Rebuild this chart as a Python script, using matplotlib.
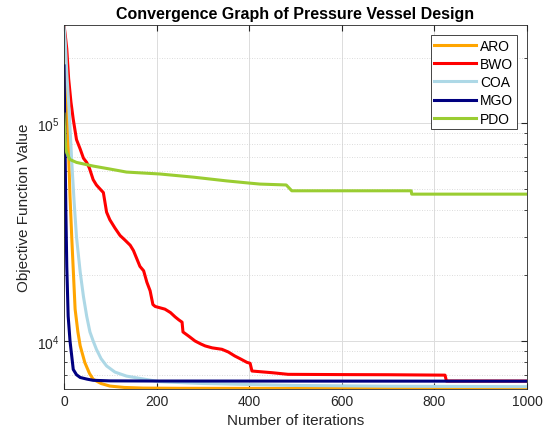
import matplotlib
matplotlib.use("Agg")
import matplotlib.pyplot as plt
from matplotlib.ticker import LogLocator, NullFormatter

plt.rcParams['font.family'] = ['Liberation Sans', 'DejaVu Sans']
plt.rcParams['mathtext.default'] = 'regular'

# ---- data ----
aro_it = [0, 1, 3, 6, 9, 13, 17, 24, 30, 35, 45, 55, 63, 80, 99, 130, 171, 250, 400, 1000]
aro_val = [2.82e5, 2.5e5, 1.8e5, 1.2e5, 8.4e4, 4.6e4, 2.9e4, 1.4e4, 1.1e4, 9500, 7960, 7100,
           6670, 6380, 6210, 6120, 6080, 6065, 6060, 6060]

bwo_it = [0, 3, 6, 10, 15, 20, 27, 35, 42, 49, 55, 63, 70, 78, 85, 92, 99, 110, 121, 132, 143,
          150, 164, 172, 179, 186, 192, 197, 218, 230, 240, 248, 255, 257, 270, 283, 295, 305,
          320, 341, 355, 369, 380, 395, 402, 406, 450, 484, 600, 700, 823, 826, 1000]
bwo_val = [2.82e5, 2.5e5, 2.19e5, 1.6e5, 1.25e5, 1.04e5, 8.4e4, 7.6e4, 6.9e4, 6.6e4, 6.2e4,
           5.5e4, 5.2e4, 4.98e4, 4.8e4, 3.9e4, 3.6e4, 3.3e4, 3.05e4, 2.9e4, 2.75e4, 2.6e4,
           2.2e4, 2.1e4, 1.86e4, 1.7e4, 1.47e4, 1.44e4, 1.4e4, 1.35e4, 1.29e4, 1.25e4, 1.22e4,
           1.1e4, 1.05e4, 1e4, 9700, 9490, 9300, 9160, 8900, 8530, 8300, 7980, 7900, 7280,
           7150, 7030, 7010, 7000, 6970, 6550, 6545]

coa_it = [0, 3, 6, 10, 13, 17, 22, 27, 35, 42, 49, 56, 63, 70, 80, 92, 110, 135, 170, 207,
          300, 500, 700, 1000]
coa_val = [2.82e5, 2.3e5, 1.7e5, 1.25e5, 9.5e4, 6.5e4, 4.3e4, 3e4, 2.07e4, 1.6e4, 1.3e4,
           1.1e4, 1e4, 9160, 8300, 7680, 7200, 6900, 6700, 6500, 6380, 6250, 6200, 6170]

mgo_it = [0, 1, 2, 4, 6, 9, 13, 20, 27, 35, 50, 63, 100, 200, 500, 1000]
mgo_val = [1.83e5, 1.3e5, 8.4e4, 4e4, 2.2e4, 1.3e4, 1e4, 7400, 7000, 6800, 6680, 6600, 6560,
           6550, 6545, 6540]

pdo_it = [0, 2, 4, 6, 13, 27, 63, 100, 135, 207, 279, 351, 402, 423, 480, 492, 750, 751, 1000]
pdo_val = [1.1e5, 8.5e4, 7.6e4, 7.3e4, 6.8e4, 6.6e4, 6.35e4, 6.15e4, 5.96e4, 5.84e4, 5.65e4,
           5.43e4, 5.3e4, 5.25e4, 5.2e4, 4.89e4, 4.89e4, 4.72e4, 4.72e4]

names = ['ARO', 'BWO', 'COA', 'MGO', 'PDO']
colors = ['#FFA500', '#FF0000', '#ADD8E6', '#000080', '#9ACD32']

fig = plt.figure(figsize=(5.47, 4.39), dpi=100)
ax = fig.add_axes([0.117, 0.1116, 0.8464, 0.8292])

series = [(aro_it, aro_val), (bwo_it, bwo_val), (coa_it, coa_val), (mgo_it, mgo_val), (pdo_it, pdo_val)]
for (it, val), name, c in zip(series, names, colors):
    ax.plot(it, val, color=c, lw=2.2, label=name)

ax.set_yscale('log')
ax.set_xlim(0, 1000)
ax.set_ylim(6020, 2.82e5)
ax.set_xticks(range(0, 1001, 200))
ax.yaxis.set_major_locator(LogLocator(base=10))
ax.yaxis.set_minor_locator(LogLocator(base=10, subs=range(2, 10)))
ax.yaxis.set_minor_formatter(NullFormatter())

dark = '#262626'
ax.tick_params(which='both', direction='in', top=True, right=True, colors=dark, labelsize=10)
ax.tick_params(which='major', length=4)
ax.tick_params(which='minor', length=2.5)
for s in ax.spines.values():
    s.set_color(dark)
    s.set_linewidth(0.6)

ax.grid(True, which='major', color='#dcdcdc', lw=0.7)
ax.grid(True, which='minor', axis='y', color='#d0d0d0', lw=0.6, ls=(0, (1, 2)))

ax.set_title('Convergence Graph of Pressure Vessel Design', fontsize=11.5, fontweight='bold', pad=5)
ax.set_xlabel('Number of iterations', fontsize=11, color=dark)
ax.set_ylabel('Objective Function Value', fontsize=11, color=dark)

leg = ax.legend(loc='upper right', fontsize=10, fancybox=False, edgecolor=dark,
                framealpha=1, handlelength=3.0, handletextpad=0.3, borderpad=0.25,
                borderaxespad=0.75, labelspacing=0.3)
leg.get_frame().set_linewidth(0.6)

fig.savefig('out.png', dpi=100)
